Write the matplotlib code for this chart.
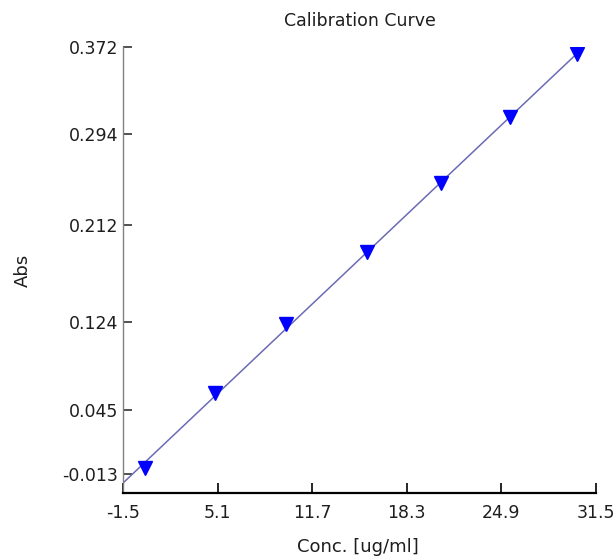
import numpy as np
import matplotlib
matplotlib.use("Agg")
import matplotlib.pyplot as plt

# Calibration standards
conc = [0.0, 4.9, 9.9, 15.5, 20.7, 25.5, 30.2]           # ug/ml
absorbance = [-0.0077, 0.0599, 0.1221, 0.1871, 0.2493, 0.3089, 0.3659]

x_ticks = [-1.5, 5.1, 11.7, 18.3, 24.9, 31.5]
y_ticks = [-0.013, 0.045, 0.124, 0.212, 0.294, 0.372]

plt.rcParams["font.family"] = ["DejaVu Sans"]

fig = plt.figure(figsize=(6.16, 5.58), dpi=100)
ax = fig.add_axes([123 / 616, 1 - 493 / 558, 473 / 616, 446 / 558])

# Least-squares calibration line
slope, intercept = np.polyfit(conc, absorbance, 1)
xl = np.array([x_ticks[0], max(conc)])
ax.plot(xl, slope * xl + intercept, color="#6b6bb5", lw=1.1, zorder=2)

ax.plot(conc, absorbance, linestyle="none", marker="v", markersize=10,
        markerfacecolor="#0000ff", markeredgecolor="#0000ff", zorder=3)

ax.set_xlim(x_ticks[0], x_ticks[-1])
ax.set_ylim(-0.0303, 0.3723)
ax.set_xticks(x_ticks)
ax.set_xticklabels([f"{v:.1f}" for v in x_ticks])
ax.set_yticks(y_ticks)
ax.set_yticklabels([f"{v:.3f}" for v in y_ticks])

for s in ("top", "right"):
    ax.spines[s].set_visible(False)
ax.spines["left"].set_color("#808080")
ax.spines["left"].set_linewidth(1.0)
ax.spines["bottom"].set_color("#000000")
ax.spines["bottom"].set_linewidth(1.6)

ax.tick_params(axis="x", direction="in", length=7, width=1.2, color="#000000",
               pad=8, labelsize=12.5, labelcolor="#1e1e1e")
ax.tick_params(axis="y", direction="in", length=6.5, width=1.2, color="#333333",
               pad=3.5, labelsize=12.5, labelcolor="#1e1e1e")

fig.text(360 / 616, 1 - 21 / 558, "Calibration Curve", ha="center", va="center",
         fontsize=12.5, color="#1e1e1e")
fig.text(358 / 616, 1 - 547 / 558, "Conc. [ug/ml]", ha="center", va="center",
         fontsize=13, color="#1e1e1e")
fig.text(23 / 616, 1 - 270 / 558, "Abs", ha="center", va="center", rotation=90,
         fontsize=13, color="#1e1e1e")

fig.savefig("out.png", dpi=100, facecolor="white")
